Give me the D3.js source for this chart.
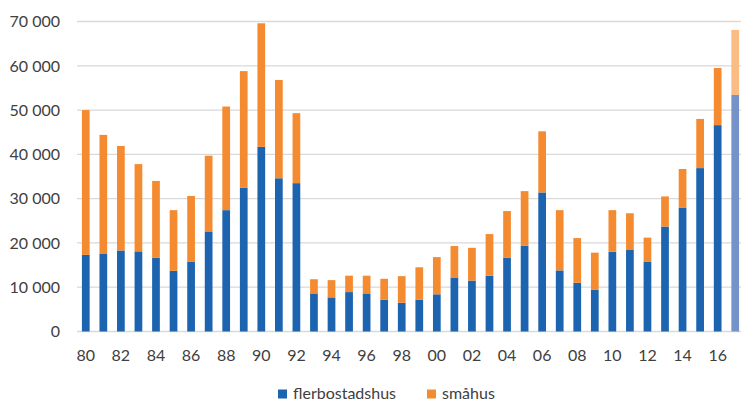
<!DOCTYPE html>
<html>
<head>
<meta charset="utf-8">
<script src="https://cdn.jsdelivr.net/npm/d3@7"></script>
<style>
  body { margin: 0; background: #fff; }
  svg { display: block; font-family: Lato, "Open Sans", sans-serif; }
</style>
</head>
<body>
<svg id="chart" width="741" height="403"></svg>
<script>
const years = ["80","81","82","83","84","85","86","87","88","89",
  "90","91","92","93","94","95","96","97","98","99",
  "00","01","02","03","04","05","06","07","08","09",
  "10","11","12","13","14","15","16","17"];
const flerbostadshus = [17300,17500,18300,18100,16700,13700,15800,22600,27400,32500,
  41700,34600,33500,8600,7700,8900,8600,7200,6500,7200,
  8400,12200,11500,12600,16700,19400,31400,13800,11000,9400,
  18000,18400,15800,23700,28000,36900,46600,53400];
const smahus = [32700,26900,23600,19700,17300,13700,14800,17100,23400,26300,
  27900,22200,15800,3200,3900,3700,4000,4700,6000,7300,
  8400,7100,7400,9400,10500,12300,13800,13600,10100,8400,
  9400,8300,5400,6800,8700,11100,12900,14700];
const forecastYears = ["17"];
const yTicks = [0,10000,20000,30000,40000,50000,60000,70000];
const xTickLabels = ["80","82","84","86","88","90","92","94","96","98",
  "00","02","04","06","08","10","12","14","16"];
const seriesNames = ["flerbostadshus", "småhus"];

const colors = { flerbostadshus: "#1c64b0", "småhus": "#f58b31" };
const lightColors = { flerbostadshus: "#7593c8", "småhus": "#fbbb85" };

const svg = d3.select("#chart");
const W = 741;
const x = d3.scaleBand().domain(years).range([77, 744]).paddingInner(0.56).paddingOuter(0.28);
const y = d3.scaleLinear().domain([0, 70000]).range([331.5, 21.5]);

// gridlines
svg.append("g").selectAll("line").data(yTicks).join("line")
  .attr("x1", 77).attr("x2", W)
  .attr("y1", d => y(d)).attr("y2", d => y(d))
  .attr("stroke", "#d9d9d9").attr("stroke-width", 1.3);

// y labels
const fmt = d => d === 0 ? "0" : d3.format(",")(d).replace(/,/g, " ");
svg.append("g").selectAll("text").data(yTicks).join("text")
  .attr("x", 60).attr("y", d => y(d)).attr("dy", "0.36em")
  .attr("text-anchor", "end").attr("font-size", 16).attr("fill", "#404040")
  .text(fmt);

// stacked bars
const data = years.map((yr, i) => ({ year: yr, flerbostadshus: flerbostadshus[i], "småhus": smahus[i] }));
const stack = d3.stack().keys(seriesNames)(data);
const g = svg.append("g");
stack.forEach(layer => {
  g.append("g").selectAll("rect").data(layer).join("rect")
    .attr("x", d => x(d.data.year))
    .attr("width", x.bandwidth())
    .attr("y", d => y(d[1]))
    .attr("height", d => y(d[0]) - y(d[1]))
    .attr("fill", d => forecastYears.includes(d.data.year) ? lightColors[layer.key] : colors[layer.key]);
});

// x labels
svg.append("g").selectAll("text").data(xTickLabels).join("text")
  .attr("x", d => x(d) + x.bandwidth() / 2).attr("y", 361)
  .attr("text-anchor", "middle").attr("font-size", 16).attr("fill", "#404040")
  .text(d => d);

// legend
const legend = svg.append("g");
const legendItems = [
  { key: "flerbostadshus", x: 278 },
  { key: "småhus", x: 427 }
];
legendItems.forEach(it => {
  legend.append("rect").attr("x", it.x).attr("y", 389.5).attr("width", 9).attr("height", 9)
    .attr("fill", colors[it.key]);
  legend.append("text").attr("x", it.x + 15).attr("y", 393.5).attr("dy", "0.36em")
    .attr("font-size", 16).attr("fill", "#404040").text(it.key);
});
</script>
</body>
</html>
